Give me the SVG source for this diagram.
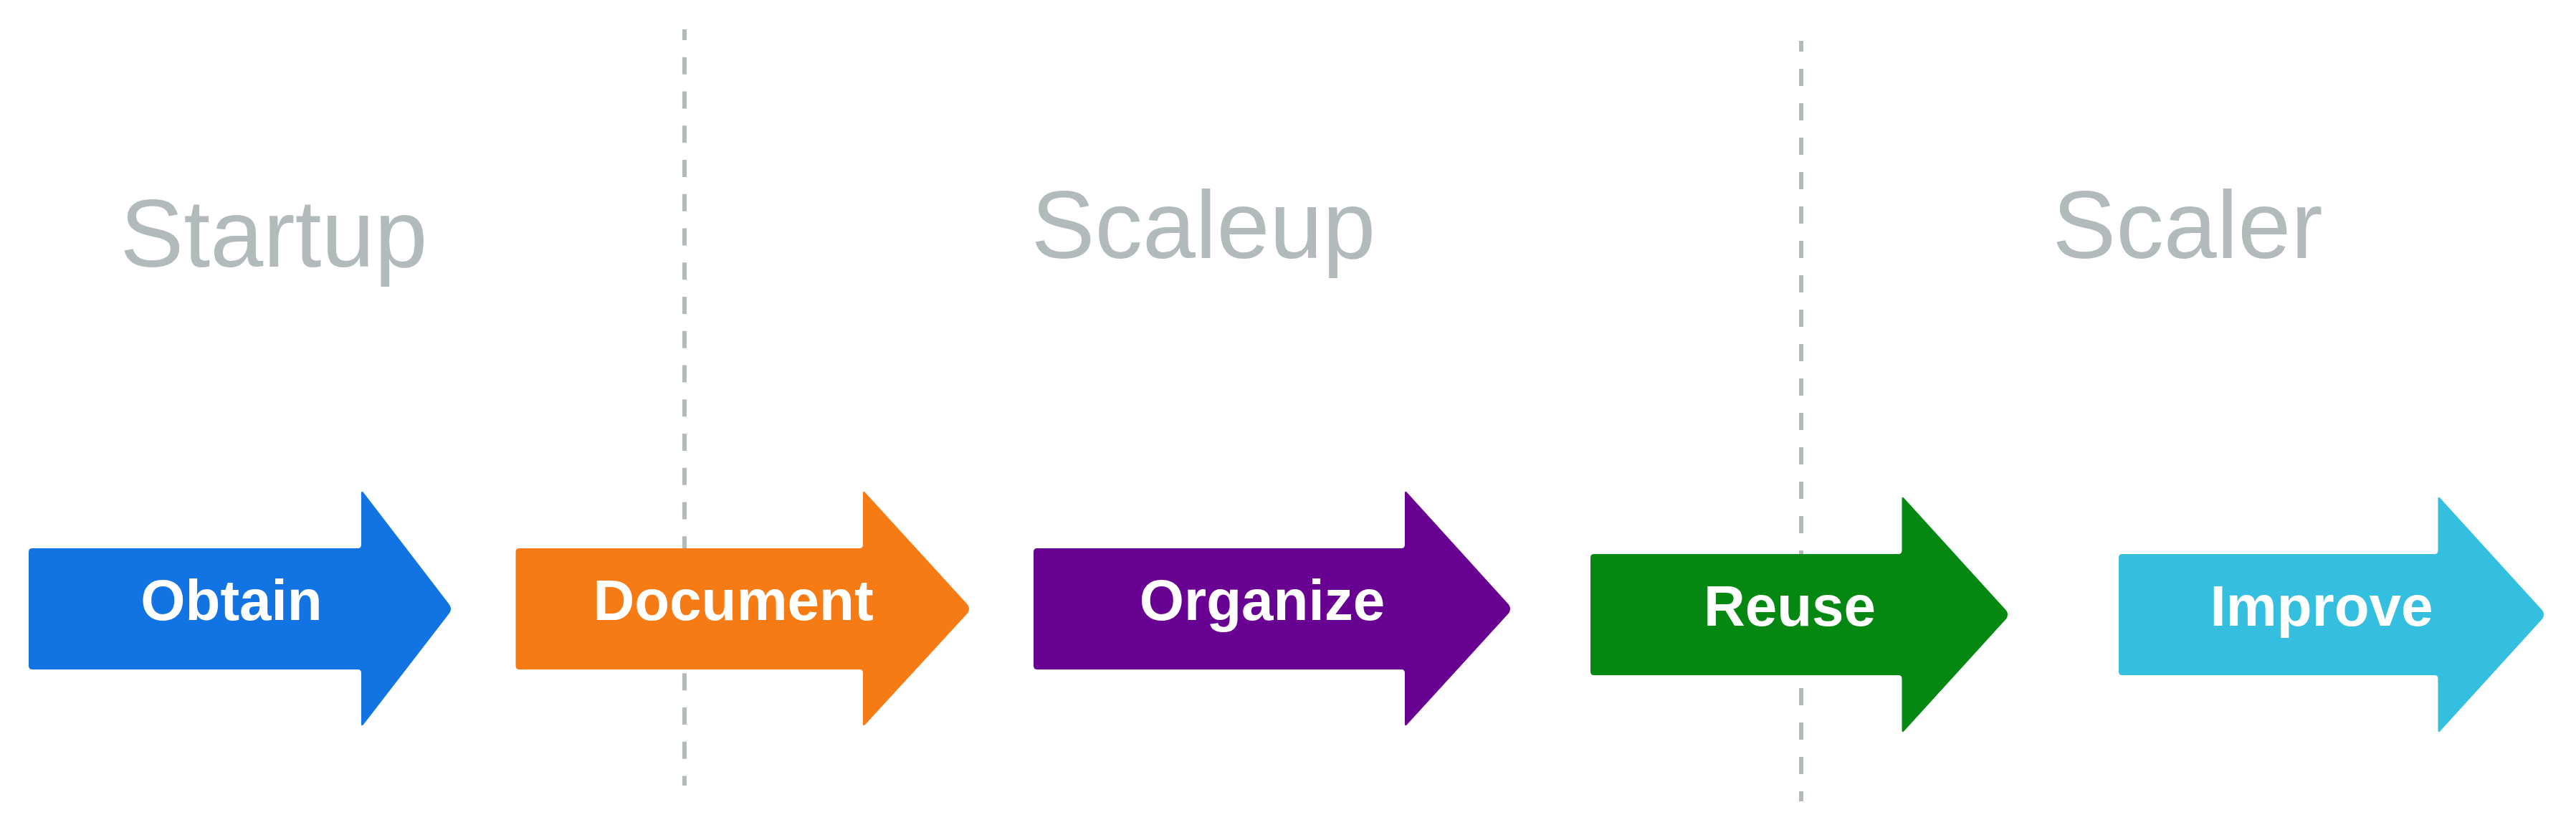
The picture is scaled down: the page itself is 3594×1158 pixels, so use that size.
<svg xmlns="http://www.w3.org/2000/svg" width="3594" height="1158" viewBox="0 0 3594 1158">
  <style>
    .hdr { font-family: "Liberation Sans", Arial, sans-serif; font-size: 133px; fill: #b3babb; text-anchor: middle; }
    .lbl { font-family: "Liberation Sans", Arial, sans-serif; font-size: 80px; font-weight: bold; fill: #ffffff; text-anchor: middle; }
    .sep { stroke: #b3babb; stroke-width: 6; fill: none; stroke-linecap: butt; }
  </style>
  <rect x="0" y="0" width="3594" height="1158" fill="#ffffff"/>

  <g id="separators">
    <path class="sep" d="M955 41V56M955 79.75V103.75M955 127.5V151.5M955 175.25V199.25M955 223V247M955 270.75V294.75M955 318.5V342.5M955 366.25V390.25M955 414V438M955 461.75V485.75M955 509.5V533.5M955 557.25V581.25M955 605V629M955 652.75V676.75M955 700.5V724.5M955 748.25V772.25M955 796V820M955 843.75V867.75M955 891.5V915.5M955 939.25V963.25M955 987V1011M955 1034.75V1058.75M955 1082.5V1096"/>
    <path class="sep" d="M2513 57V72M2513 96V120M2513 144V168M2513 192V216M2513 240V264M2513 288V312M2513 336V360M2513 384V408M2513 432V456M2513 480V504M2513 528V552M2513 576V600M2513 624V648M2513 672V696M2513 720V744M2513 768V792M2513 816V840M2513 864V888M2513 912V936M2513 960V984M2513 1008V1032M2513 1056V1080M2513 1104V1118"/>
  </g>

  <g id="headers">
    <text id="startup" class="hdr" x="382" y="372">Startup</text>
    <text id="scaleup" class="hdr" x="1679" y="360">Scaleup</text>
    <text id="scaler" class="hdr" x="3052" y="360">Scaler</text>
  </g>

  <g id="obtain">
    <path fill="#1273e3" d="M45,765 H499 Q504,765 504,760 V688 Q504,684 507,687 L627,843.5 Q631,849.5 627,855.5 L507,1011 Q504,1014 504,1010 V939 Q504,934 499,934 H45 Q40,934 40,929 V770 Q40,765 45,765 Z"/>
    <text class="lbl" x="323" y="865">Obtain</text>
  </g>

  <g id="document">
    <path fill="#f77b15" d="M724.5,765 H1199 Q1204,765 1204,760 V688 Q1204,684 1207,687 L1350,843.5 Q1354,849.5 1350,855.5 L1207,1011 Q1204,1014 1204,1010 V939 Q1204,934 1199,934 H724.5 Q719.5,934 719.5,929 V770 Q719.5,765 724.5,765 Z"/>
    <text class="lbl" x="1023" y="865">Document</text>
  </g>

  <g id="organize">
    <path fill="#680091" d="M1447,765 H1955 Q1960,765 1960,760 V688 Q1960,684 1963,687 L2105,843.5 Q2109,849.5 2105,855.5 L1963,1011 Q1960,1014 1960,1010 V939 Q1960,934 1955,934 H1447 Q1442,934 1442,929 V770 Q1442,765 1447,765 Z"/>
    <text class="lbl" x="1761" y="865">Organize</text>
  </g>

  <g id="reuse">
    <path fill="#048811" d="M2224,773 H2648.5 Q2653.5,773 2653.5,768 V696 Q2653.5,692 2656.5,695 L2799,851.5 Q2803,857.5 2799,863.5 L2656.5,1020 Q2653.5,1023 2653.5,1019 V947 Q2653.5,942 2648.5,942 H2224 Q2219,942 2219,937 V778 Q2219,773 2224,773 Z"/>
    <text class="lbl" x="2497" y="873">Reuse</text>
  </g>

  <g id="improve">
    <path fill="#34bee0" d="M2961,773 H3396.5 Q3401.5,773 3401.5,768 V696 Q3401.5,692 3404.5,695 L3547,851.5 Q3551,857.5 3547,863.5 L3404.5,1020 Q3401.5,1023 3401.5,1019 V947 Q3401.5,942 3396.5,942 H2961 Q2956,942 2956,937 V778 Q2956,773 2961,773 Z"/>
    <text class="lbl" x="3239" y="873">Improve</text>
  </g>
</svg>
